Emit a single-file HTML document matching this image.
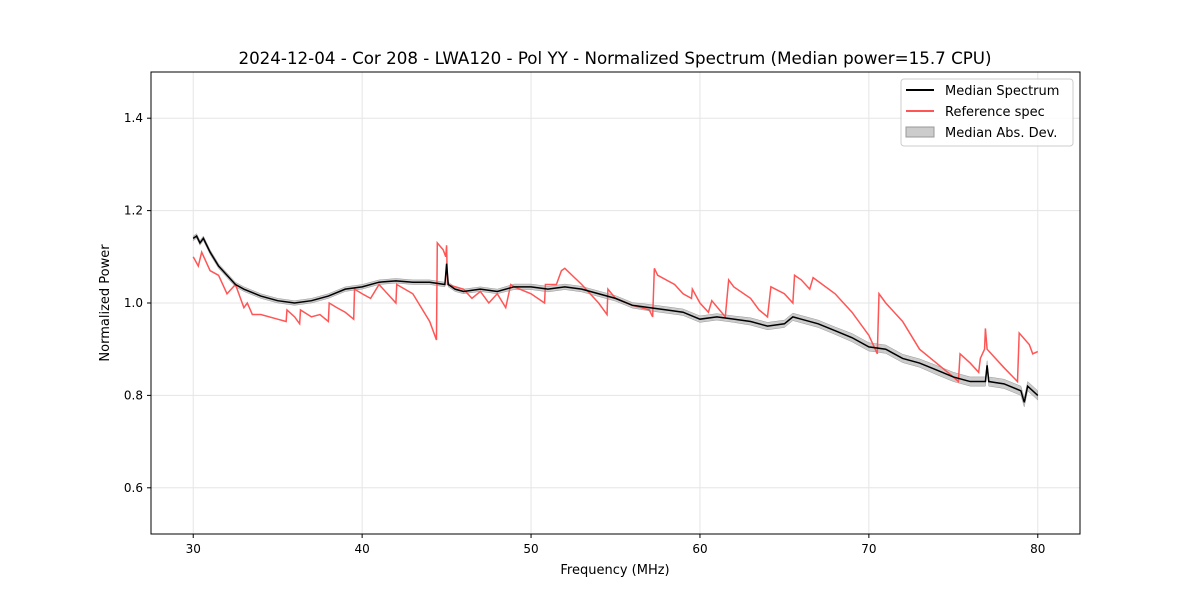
<!DOCTYPE html>
<html><head><meta charset="utf-8"><style>
body{margin:0;background:#fff;font-family:"Liberation Sans","DejaVu Sans",sans-serif}
svg text{font-family:"DejaVu Sans","Liberation Sans",sans-serif}
</style></head><body>
<svg id="chart" width="1200" height="600" xmlns="http://www.w3.org/2000/svg">
<rect width="1200" height="600" fill="#fff"/>
<text x="615" y="64" text-anchor="middle" font-size="16.7">2024-12-04 - Cor 208 - LWA120 - Pol YY - Normalized Spectrum (Median power=15.7 CPU)</text>
<g id="grid"></g>
<g id="plot"></g>
<rect x="151" y="72" width="929" height="462" fill="none" stroke="#000" stroke-width="1"/>
<g id="ticks"></g>
<text x="615" y="574" text-anchor="middle" font-size="13">Frequency (MHz)</text>
<text transform="translate(109,303) rotate(-90)" text-anchor="middle" font-size="13">Normalized Power</text>
<g>
<rect x="901" y="79" width="172" height="67" rx="3" fill="#fff" fill-opacity="0.8" stroke="#ccc"/>
<line x1="906" y1="90" x2="934" y2="90" stroke="#000" stroke-width="2"/>
<text x="945" y="95" font-size="13">Median Spectrum</text>
<line x1="906" y1="111" x2="934" y2="111" stroke="#f55" stroke-width="2"/>
<text x="945" y="116" font-size="13">Reference spec</text>
<rect x="906" y="127" width="28" height="10" fill="#bbb" fill-opacity="0.75" stroke="#999"/>
<text x="945" y="137" font-size="13">Median Abs. Dev.</text>
</g>
</svg>
<script>
const xTicks=[30,40,50,60,70,80];
const yTicks=[0.6,0.8,1.0,1.2,1.4];
const medFreq=[30,30.2,30.4,30.6,30.8,31,31.5,32,32.5,33,34,35,36,37,38,39,40,41,42,43,44,44.9,45,45.1,45.5,46,47,48,49,50,51,52,53,54,55,56,57,58,59,60,61,62,63,64,65,65.5,66,67,68,69,70,71,72,73,74,75,76,76.9,77,77.1,78,79,79.2,79.4,80];
const medVal=[1.14,1.145,1.13,1.14,1.125,1.11,1.08,1.06,1.04,1.03,1.015,1.005,1.0,1.005,1.015,1.03,1.035,1.045,1.048,1.045,1.045,1.04,1.085,1.04,1.03,1.025,1.03,1.025,1.035,1.035,1.03,1.035,1.03,1.02,1.01,0.995,0.99,0.985,0.98,0.965,0.97,0.965,0.96,0.95,0.955,0.97,0.965,0.955,0.94,0.925,0.905,0.9,0.88,0.87,0.855,0.84,0.83,0.83,0.865,0.83,0.825,0.81,0.785,0.82,0.8];
const madHalf=[0.005,0.005,0.005,0.005,0.005,0.005,0.005,0.005,0.005,0.005,0.005,0.005,0.005,0.005,0.005,0.005,0.005,0.005,0.005,0.005,0.005,0.005,0.005,0.005,0.005,0.005,0.005,0.005,0.006,0.006,0.006,0.006,0.006,0.006,0.006,0.006,0.007,0.007,0.007,0.007,0.007,0.007,0.008,0.008,0.008,0.008,0.008,0.008,0.008,0.009,0.009,0.009,0.009,0.009,0.01,0.01,0.01,0.01,0.01,0.01,0.01,0.01,0.01,0.01,0.01];
const refFreq=[30,30.3,30.5,31,31.5,32,32.5,33,33.2,33.5,34,35,35.5,35.55,36,36.3,36.35,37,37.5,38,38.05,38.5,39,39.5,39.55,40,40.5,41,42,42.05,43,44,44.4,44.45,44.8,44.95,45,45.05,46,46.5,47,47.5,48,48.5,48.8,49,50,50.8,50.85,51.5,51.8,52,53,54,54.5,54.55,55,56,57,57.2,57.3,57.5,58.5,59,59.5,59.55,60,60.5,60.7,61.5,61.7,62,63,63.5,64,64.2,65,65.5,65.6,66,66.5,66.7,68,69,70,70.5,70.6,71,72,73,74,75,75.3,75.4,76,76.5,76.6,76.85,76.9,77,78,78.8,78.9,79.5,79.7,80];
const refVal=[1.1,1.08,1.11,1.07,1.06,1.02,1.04,0.99,1.0,0.975,0.975,0.965,0.96,0.985,0.97,0.955,0.985,0.97,0.975,0.96,1.0,0.99,0.98,0.965,1.03,1.02,1.01,1.04,1.0,1.04,1.02,0.96,0.92,1.13,1.115,1.1,1.125,1.04,1.03,1.01,1.025,1.0,1.02,0.99,1.04,1.035,1.02,1.0,1.04,1.04,1.07,1.075,1.04,1.0,0.975,1.03,1.01,0.995,0.985,0.97,1.075,1.06,1.04,1.02,1.01,1.03,1.0,0.98,1.005,0.97,1.05,1.035,1.01,0.985,0.97,1.035,1.02,1.0,1.06,1.05,1.03,1.055,1.02,0.98,0.93,0.89,1.02,1.0,0.96,0.9,0.87,0.84,0.83,0.89,0.87,0.85,0.88,0.9,0.945,0.9,0.86,0.83,0.935,0.91,0.89,0.895];
const X0=151,X1=1080,Y0=72,Y1=534,xmin=27.5,xmax=82.5,ymin=0.5,ymax=1.5;
const xs=v=>X0+(v-xmin)/(xmax-xmin)*(X1-X0);
const ys=v=>Y1-(v-ymin)/(ymax-ymin)*(Y1-Y0);
const NS="http://www.w3.org/2000/svg";
function mk(tag,parent,attrs){const e=document.createElementNS(NS,tag);for(const k in attrs)e.setAttribute(k,attrs[k]);parent.appendChild(e);return e;}
const grid=document.getElementById('grid'),ticks=document.getElementById('ticks'),plot=document.getElementById('plot');
xTicks.forEach(t=>{const x=xs(t);
 const g=mk('line',grid,{x1:x,x2:x,y1:Y0,y2:Y1,stroke:'#e5e5e5'});
 
 
 mk('line',ticks,{x1:x,x2:x,y1:Y1,y2:Y1+4,stroke:'#000'});
 const tx=mk('text',ticks,{x:x,y:Y1+19,'text-anchor':'middle','font-size':12});tx.textContent=t;
 
 });
yTicks.forEach(t=>{const y=ys(t);
 const g=mk('line',grid,{x1:X0,x2:X1,y1:y,y2:y,stroke:'#e5e5e5'});
 
 
 mk('line',ticks,{x1:X0-4,x2:X0,y1:y,y2:y,stroke:'#000'});
 const tx=mk('text',ticks,{x:X0-8,y:y+4,'text-anchor':'end','font-size':12});tx.textContent=t.toFixed(1);
 
 });
let up=medFreq.map((f,i)=>xs(f)+','+ys(medVal[i]+madHalf[i]));
let dn=medFreq.map((f,i)=>xs(f)+','+ys(medVal[i]-madHalf[i])).reverse();
const band=mk('polygon',plot,{points:up.concat(dn).join(' '),fill:'#aaa','fill-opacity':0.6,stroke:'#999','stroke-width':0.5});


const ref=mk('polyline',plot,{points:refFreq.map((f,i)=>xs(f)+','+ys(refVal[i])).join(' '),fill:'none',stroke:'#f55','stroke-width':1.5});


const med=mk('polyline',plot,{points:medFreq.map((f,i)=>xs(f)+','+ys(medVal[i])).join(' '),fill:'none',stroke:'#000','stroke-width':1.5});


</script>
</body></html>
